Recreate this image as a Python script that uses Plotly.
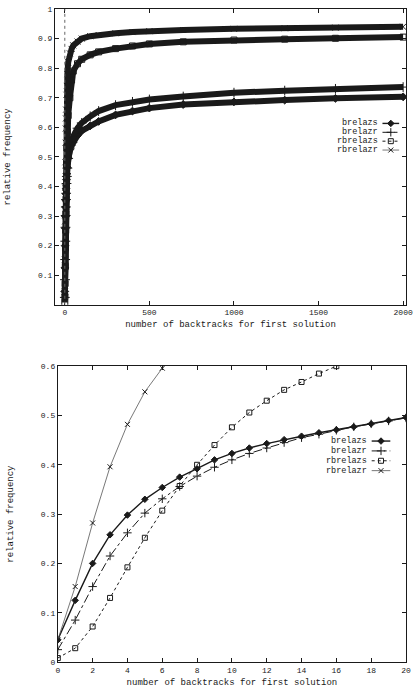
import plotly.graph_objects as go

# top panel: full range of backtracks
top_x = [0, 1, 2, 3, 4, 5, 6, 7, 8, 10, 12, 15, 20, 30, 40, 50, 75, 100, 150, 200,
         300, 400, 500, 700, 1000, 1300, 1600, 2000]
top_brelazs = [0.045, 0.125, 0.2, 0.258, 0.298, 0.33, 0.354, 0.375, 0.392, 0.423, 0.443,
               0.465, 0.496, 0.525, 0.54, 0.55, 0.572, 0.588, 0.605, 0.62,
               0.642, 0.655, 0.665, 0.677, 0.686, 0.692, 0.698, 0.703]
top_brelazr = [0.025, 0.085, 0.153, 0.215, 0.262, 0.302, 0.331, 0.356, 0.377, 0.41, 0.434,
               0.462, 0.495, 0.53, 0.552, 0.57, 0.597, 0.615, 0.637, 0.655,
               0.675, 0.686, 0.694, 0.704, 0.717, 0.724, 0.73, 0.736]
top_rbrelazs = [0.008, 0.028, 0.072, 0.13, 0.192, 0.252, 0.307, 0.357, 0.4, 0.476, 0.53,
                0.585, 0.64, 0.7, 0.76, 0.79, 0.815, 0.83, 0.845, 0.855,
                0.866, 0.875, 0.882, 0.889, 0.895, 0.898, 0.901, 0.905]
top_rbrelazr = [0.045, 0.153, 0.282, 0.396, 0.482, 0.548, 0.596, 0.63, 0.66, 0.71, 0.74,
                0.78, 0.82, 0.85, 0.865, 0.877, 0.89, 0.9, 0.908, 0.912,
                0.918, 0.922, 0.925, 0.929, 0.933, 0.935, 0.937, 0.94]

# bottom panel: zoom on the first 20 backtracks
bot_x = list(range(0, 21))
bot_brelazs = [0.045, 0.125, 0.2, 0.258, 0.298, 0.33, 0.354, 0.375, 0.392, 0.41, 0.423,
               0.434, 0.443, 0.451, 0.458, 0.465, 0.471, 0.477, 0.483, 0.49, 0.496]
bot_brelazr = [0.025, 0.085, 0.153, 0.215, 0.262, 0.302, 0.331, 0.356, 0.377, 0.395, 0.41,
               0.423, 0.434, 0.445, 0.455, 0.462, 0.47, 0.477, 0.483, 0.489, 0.495]
bot_rbrelazs = [0.008, 0.028, 0.072, 0.13, 0.192, 0.252, 0.307, 0.357, 0.4, 0.44, 0.476,
                0.506, 0.53, 0.552, 0.568, 0.585, 0.6, 0.612, 0.622, 0.632, 0.64]
bot_rbrelazr = [0.045, 0.153, 0.282, 0.396, 0.482, 0.548, 0.596, 0.63, 0.66, 0.69, 0.71,
                0.73, 0.74, 0.75, 0.765, 0.78, 0.79, 0.8, 0.805, 0.812, 0.82]

names = ["brelazs", "brelazr", "rbrelazs", "rbrelazr"]
symbols = ["diamond", "cross-thin-open", "square-open", "x-thin-open"]
sizes = [5, 6, 5, 5]
dashes = ["solid", "dashdot", "dot", "solid"]
widths = [1.4, 1, 1, 0.8]

FONT = "Liberation Mono"
INK = "#1a1a1a"
line_colors = [INK, INK, INK, "#555555"]

fig = go.Figure()

top_series = [top_brelazs, top_brelazr, top_rbrelazs, top_rbrelazr]
for name, ys, sym, sz in zip(names, top_series, symbols, sizes):
    fig.add_trace(go.Scatter(
        x=top_x, y=ys, name=name, mode="lines+markers",
        line=dict(color=INK, width=6),
        marker=dict(symbol=sym, size=sz + 1, color=INK, line=dict(color=INK, width=1)),
        xaxis="x", yaxis="y", showlegend=False,
    ))

bot_series = [bot_brelazs, bot_brelazr, bot_rbrelazs, bot_rbrelazr]
for name, ys, sym, sz, dash, w, lc in zip(names, bot_series, symbols, sizes, dashes, widths, line_colors):
    fig.add_trace(go.Scatter(
        x=bot_x, y=ys, name=name, mode="lines+markers",
        line=dict(color=lc, width=w, dash=dash),
        marker=dict(symbol=sym, size=sz, color=INK, line=dict(color=INK, width=1)),
        xaxis="x2", yaxis="y2", showlegend=False,
    ))

# gnuplot-style key (text left of the sample), drawn on a pixel-space overlay axis
keys = [
    dict(rows=[121, 130, 139, 148], text_right=386, s0=389, s1=406),
    dict(rows=[443, 453, 463, 473], text_right=375, s0=378, s1=397),
]
for key in keys:
    for row, name, sym, sz, dash, w, lc in zip(key["rows"], names, symbols, sizes, dashes, widths, line_colors):
        fig.add_trace(go.Scatter(
            x=[key["s0"], key["s1"]], y=[row, row], mode="lines",
            line=dict(color=lc, width=w, dash=dash),
            xaxis="x3", yaxis="y3", showlegend=False, hoverinfo="skip",
        ))
        fig.add_trace(go.Scatter(
            x=[(key["s0"] + key["s1"]) / 2], y=[row], mode="markers",
            marker=dict(symbol=sym, size=sz, color=INK, line=dict(color=INK, width=1)),
            xaxis="x3", yaxis="y3", showlegend=False, hoverinfo="skip",
        ))
        fig.add_annotation(x=key["text_right"], y=row, xref="x3", yref="y3",
                           text=name, showarrow=False, xanchor="right", yanchor="middle",
                           font=dict(family=FONT, size=8.5, color=INK))

# faint dotted guide at x = 0 in the top panel
fig.add_shape(type="line", xref="x", yref="y", x0=0, x1=0, y0=0, y1=1,
              line=dict(color="#666", width=1, dash="dot"))

axis_common = dict(
    showline=True, linecolor=INK, linewidth=1, mirror="allticks",
    ticks="inside", ticklen=4, tickcolor=INK, showgrid=False, zeroline=False,
    tickfont=dict(family=FONT, size=8, color=INK),
)
title_font = dict(family=FONT, size=9, color=INK)

fig.update_layout(
    width=418, height=691,
    margin=dict(l=55, r=5, t=5, b=24),
    paper_bgcolor="white", plot_bgcolor="rgba(0,0,0,0)",
    font=dict(family=FONT, size=9, color=INK),
    showlegend=False,
    xaxis=dict(axis_common, domain=[0, 1], anchor="y", range=[-58, 2017],
               tickvals=[0, 500, 1000, 1500, 2000],
               title=dict(text="number of backtracks for first solution", font=title_font, standoff=4)),
    yaxis=dict(axis_common, domain=[0.547, 1], anchor="x", range=[0, 1],
               tickvals=[0.1, 0.2, 0.3, 0.4, 0.5, 0.6, 0.7, 0.8, 0.9, 1],
               ticktext=["0.1", "0.2", "0.3", "0.4", "0.5", "0.6", "0.7", "0.8", "0.9", "1"],
               title=dict(text="relative frequency", font=title_font, standoff=25)),
    xaxis2=dict(axis_common, domain=[0.008, 1], anchor="y2", range=[0, 20],
                tickvals=list(range(0, 21, 2)),
                title=dict(text="number of backtracks for first solution", font=title_font, standoff=5)),
    yaxis2=dict(axis_common, domain=[0, 0.453], anchor="x2", range=[0, 0.6],
                tickvals=[0, 0.1, 0.2, 0.3, 0.4, 0.5, 0.6],
                ticktext=["0", "0.1", "0.2", "0.3", "0.4", "0.5", "0.6"],
                title=dict(text="relative frequency", font=title_font, standoff=25)),
    xaxis3=dict(domain=[0, 1], range=[55, 413], visible=False, fixedrange=True),
    yaxis3=dict(domain=[0, 1], range=[667, 5], visible=False, fixedrange=True, anchor="x3"),
)

fig.write_html("out.html", config={"displayModeBar": False},
               post_script="document.body.style.margin='0';")
